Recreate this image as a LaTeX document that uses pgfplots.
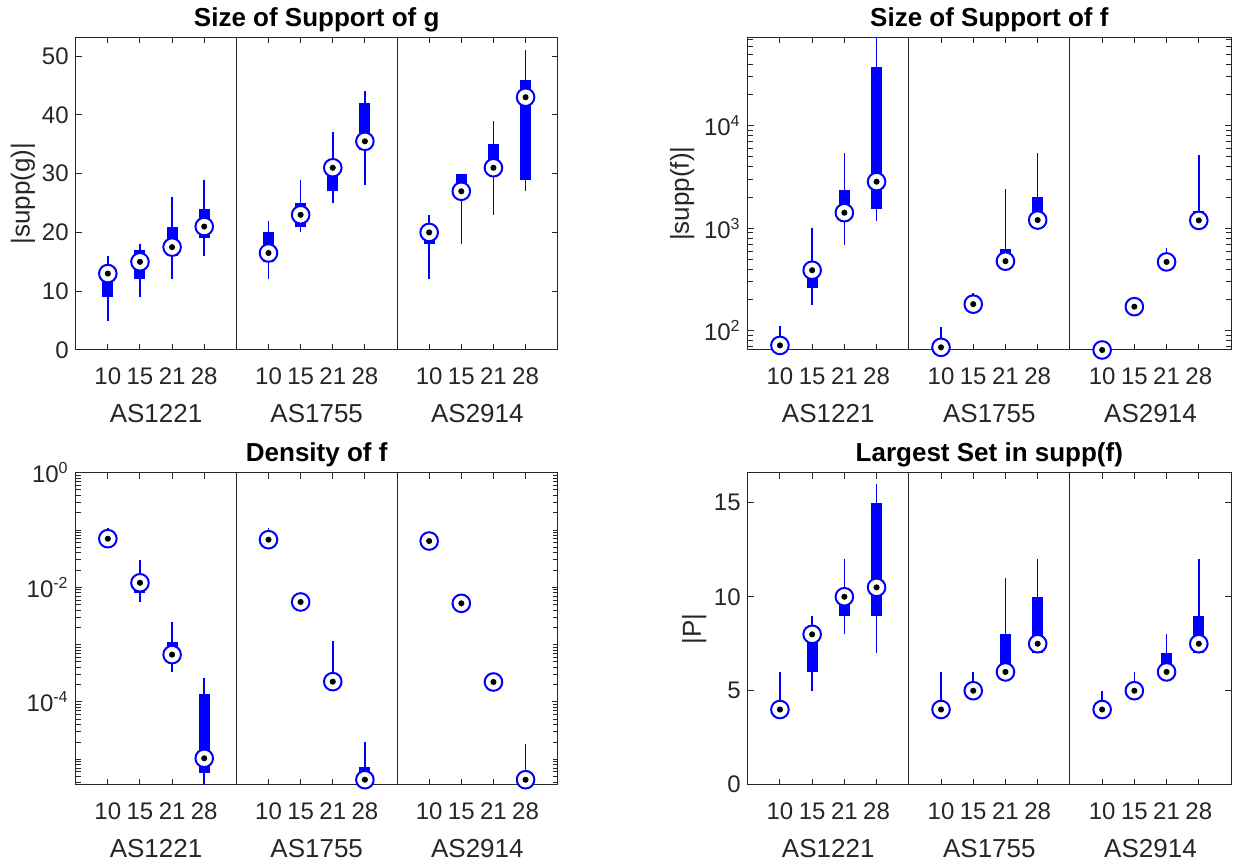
\documentclass[border=0pt]{standalone}
\usepackage{fontspec}
\setmainfont{Liberation Sans}
\usepackage{pgfplots}
\pgfplotsset{compat=1.18}
\definecolor{axgray}{rgb}{0.15,0.15,0.15}
\pgfplotsset{
  mat/.style={
    scale only axis, anchor=south west,
    xmin=0, xmax=15,
    xtick={1,2,3,4,6,7,8,9,11,12,13,14},
    xticklabels={10,15,21,28,10,15,21,28,10,15,21,28},
    extra x ticks={2.5,7.5,12.5},
    extra x tick labels={AS1221,AS1755,AS2914},
    extra x tick style={major tick length=0pt, xticklabel style={yshift=-19pt, font=\fontsize{13}{15}\selectfont}},
    tick align=inside,
    axis line style={axgray, line width=0.5pt},
    tick style={axgray, line width=0.5pt},
    major tick length=3pt, minor tick length=2.5pt,
    /pgf/number format/assume math mode=true,
    ticklabel style={font=\fontsize{12}{14}\selectfont, text=axgray},
    xticklabel style={anchor=base, yshift=-17.5pt},
    every axis title shift=0pt,
    title style={font=\bfseries\fontsize{13}{15}\selectfont, at={(0.5,1)}, anchor=base, yshift=5.5pt},
    ylabel style={font=\fontsize{13}{15}\selectfont, text=axgray, anchor=base},
    clip mode=individual,
    unbounded coords=jump,
  },
  whisk/.style={blue, line width=0.8pt, line cap=butt, forget plot},
  boxs/.style={blue, line width=5.5pt, line cap=butt, forget plot},
  medo/.style={only marks, mark=*, mark size=4.4pt, mark options={draw=blue, fill=white, line width=1pt}, forget plot},
  medi/.style={only marks, mark=*, mark size=1.3pt, mark options={draw=black, fill=black}, forget plot},
}
\begin{document}
\begin{tikzpicture}
\path[use as bounding box] (0,0) rectangle (620.5pt,433.5pt);

% ---------------- Top left
\begin{axis}[mat, at={(37.85pt,258.5pt)}, width=241pt, height=156.35pt,
  ymin=0, ymax=53.2, ytick={0,10,20,30,40,50},
  title={Size of Support of g}, ylabel={|supp(g)|},
  ylabel style={at={(rel axis cs:-0.0956,0.5)}}]
\addplot[whisk] coordinates {(1,5) (1,16) (1,nan) (2,9) (2,18) (2,nan) (3,12) (3,26) (3,nan) (4,16) (4,29) (4,nan)
 (6,12) (6,22) (6,nan) (7,20) (7,29) (7,nan) (8,25) (8,37) (8,nan) (9,28) (9,44) (9,nan)
 (11,12) (11,23) (11,nan) (12,18) (12,30) (12,nan) (13,23) (13,39) (13,nan) (14,27) (14,51)};
\addplot[boxs] coordinates {(1,9) (1,13.5) (1,nan) (2,12) (2,17) (2,nan) (3,16) (3,21) (3,nan) (4,19) (4,24) (4,nan)
 (6,15) (6,20) (6,nan) (7,21) (7,25) (7,nan) (8,27) (8,31.5) (8,nan) (9,34) (9,42) (9,nan)
 (11,18) (11,20.5) (11,nan) (12,27) (12,30) (12,nan) (13,30) (13,35) (13,nan) (14,29) (14,46)};
\addplot[medo] coordinates {(1,13) (2,15) (3,17.5) (4,21) (6,16.5) (7,23) (8,31) (9,35.5) (11,20) (12,27) (13,31) (14,43)};
\addplot[medi] coordinates {(1,13) (2,15) (3,17.5) (4,21) (6,16.5) (7,23) (8,31) (9,35.5) (11,20) (12,27) (13,31) (14,43)};
\draw[axgray, line width=0.5pt] (rel axis cs:0.333333,0) -- (rel axis cs:0.333333,1);
\draw[axgray, line width=0.5pt] (rel axis cs:0.666667,0) -- (rel axis cs:0.666667,1);
\end{axis}

% ---------------- Top right
\begin{axis}[mat, ymode=log, at={(373.85pt,258.5pt)}, width=241.65pt, height=156.35pt,
  ymin=65, ymax=73000, ytick={100,1000,10000},
  yticklabels={10\textsuperscript{2},10\textsuperscript{3},10\textsuperscript{4}},
  minor ytick={70,80,90,200,300,400,500,600,700,800,900,2000,3000,4000,5000,6000,7000,8000,9000,20000,30000,40000,50000,60000,70000},
  title={Size of Support of f}, ylabel={|supp(f)|},
  ylabel style={at={(rel axis cs:-0.1215,0.5)}}]
\addplot[whisk] coordinates {(1,60) (1,112) (1,nan) (2,180) (2,1000) (2,nan) (3,684) (3,5400) (3,nan) (4,1175) (4,75000) (4,nan)
 (6,60) (6,110) (6,nan) (7,170) (7,234) (7,nan) (8,440) (8,2400) (8,nan) (9,1100) (9,5480) (9,nan)
 (11,60) (11,80) (11,nan) (12,165) (12,212) (12,nan) (13,440) (13,645) (13,nan) (14,1150) (14,5200)};
\addplot[boxs] coordinates {(1,70) (1,76) (1,nan) (2,262) (2,420) (2,nan) (3,1300) (3,2340) (3,nan) (4,1530) (4,37200) (4,nan)
 (6,67) (6,72) (6,nan) (7,175) (7,190) (7,nan) (8,460) (8,635) (8,nan) (9,1150) (9,2030) (9,nan)
 (11,63) (11,68) (11,nan) (12,168) (12,180) (12,nan) (13,455) (13,500) (13,nan) (14,1170) (14,1460)};
\addplot[medo] coordinates {(1,72) (2,390) (3,1420) (4,2850) (6,69) (7,182) (8,478) (9,1203) (11,65) (12,172) (13,470) (14,1194)};
\addplot[medi] coordinates {(1,72) (2,390) (3,1420) (4,2850) (6,69) (7,182) (8,478) (9,1203) (11,65) (12,172) (13,470) (14,1194)};
\draw[axgray, line width=0.5pt] (rel axis cs:0.333333,0) -- (rel axis cs:0.333333,1);
\draw[axgray, line width=0.5pt] (rel axis cs:0.666667,0) -- (rel axis cs:0.666667,1);
\end{axis}

% ---------------- Bottom left
\begin{axis}[mat, ymode=log, at={(37.85pt,41.15pt)}, width=241pt, height=156pt,
  ymin=3.6e-6, ymax=1, ytick={1e-4,1e-2,1},
  yticklabels={10\textsuperscript{-4},10\textsuperscript{-2},10\textsuperscript{0}},
  minor ytick={4e-6,5e-6,6e-6,7e-6,8e-6,9e-6,1e-5,2e-5,3e-5,4e-5,5e-5,6e-5,7e-5,8e-5,9e-5,2e-4,3e-4,4e-4,5e-4,6e-4,7e-4,8e-4,9e-4,1e-3,2e-3,3e-3,4e-3,5e-3,6e-3,7e-3,8e-3,9e-3,2e-2,3e-2,4e-2,5e-2,6e-2,7e-2,8e-2,9e-2,1e-1,2e-1,3e-1,4e-1,5e-1,6e-1,7e-1,8e-1,9e-1},
  title={Density of f}]
\addplot[whisk] coordinates {(1,0.065) (1,0.107) (1,nan) (2,0.00547) (2,0.0304) (2,nan) (3,3.29e-4) (3,2.48e-3) (3,nan) (4,3.0e-6) (4,2.63e-4) (4,nan)
 (6,0.064) (6,0.107) (6,nan) (7,5.3e-3) (7,6.0e-3) (7,nan) (8,2.15e-4) (8,1.14e-3) (8,nan) (9,3.0e-6) (9,1.98e-5) (9,nan)
 (11,0.061) (11,0.07) (11,nan) (12,5.0e-3) (12,5.6e-3) (12,nan) (13,2.1e-4) (13,2.4e-4) (13,nan) (14,3.0e-6) (14,1.87e-5)};
\addplot[boxs] coordinates {(1,0.068) (1,0.075) (1,nan) (2,0.0080) (2,0.013) (2,nan) (3,6.0e-4) (3,1.11e-3) (3,nan) (4,5.78e-6) (4,1.38e-4) (4,nan)
 (6,0.066) (6,0.072) (6,nan) (7,5.4e-3) (7,5.8e-3) (7,nan) (8,2.2e-4) (8,2.4e-4) (8,nan) (9,4.0e-6) (9,7.24e-6) (9,nan)
 (11,0.062) (11,0.066) (11,nan) (12,5.1e-3) (12,5.4e-3) (12,nan) (13,2.15e-4) (13,2.3e-4) (13,nan) (14,4.0e-6) (14,4.8e-6)};
\addplot[medo] coordinates {(1,0.0706) (2,0.012) (3,6.7e-4) (4,1.04e-5) (6,0.0678) (7,5.55e-3) (8,2.26e-4) (9,4.4e-6) (11,0.0643) (12,5.26e-3) (13,2.23e-4) (14,4.4e-6)};
\addplot[medi] coordinates {(1,0.0706) (2,0.012) (3,6.7e-4) (4,1.04e-5) (6,0.0678) (7,5.55e-3) (8,2.26e-4) (9,4.4e-6) (11,0.0643) (12,5.26e-3) (13,2.23e-4) (14,4.4e-6)};
\draw[axgray, line width=0.5pt] (rel axis cs:0.333333,0) -- (rel axis cs:0.333333,1);
\draw[axgray, line width=0.5pt] (rel axis cs:0.666667,0) -- (rel axis cs:0.666667,1);
\end{axis}

% ---------------- Bottom right
\begin{axis}[mat, at={(373.85pt,41.15pt)}, width=241.65pt, height=156pt,
  ymin=0, ymax=16.6, ytick={0,5,10,15},
  title={Largest Set in supp(f)}, ylabel={|P|},
  ylabel style={at={(rel axis cs:-0.0967,0.5)}}]
\addplot[whisk] coordinates {(1,4) (1,6) (1,nan) (2,5) (2,9) (2,nan) (3,8) (3,12) (3,nan) (4,7) (4,16) (4,nan)
 (6,4) (6,6) (6,nan) (7,5) (7,6) (7,nan) (8,6) (8,11) (8,nan) (9,7) (9,12) (9,nan)
 (11,4) (11,5) (11,nan) (12,5) (12,6) (12,nan) (13,6) (13,8) (13,nan) (14,7) (14,12)};
\addplot[boxs] coordinates {(1,4) (1,4) (1,nan) (2,6) (2,8) (2,nan) (3,9) (3,10) (3,nan) (4,9) (4,15) (4,nan)
 (6,4) (6,4) (6,nan) (7,5) (7,5) (7,nan) (8,6) (8,8) (8,nan) (9,7) (9,10) (9,nan)
 (11,4) (11,4) (11,nan) (12,5) (12,5) (12,nan) (13,6) (13,7) (13,nan) (14,7) (14,9)};
\addplot[medo] coordinates {(1,4) (2,8) (3,10) (4,10.5) (6,4) (7,5) (8,6) (9,7.5) (11,4) (12,5) (13,6) (14,7.5)};
\addplot[medi] coordinates {(1,4) (2,8) (3,10) (4,10.5) (6,4) (7,5) (8,6) (9,7.5) (11,4) (12,5) (13,6) (14,7.5)};
\draw[axgray, line width=0.5pt] (rel axis cs:0.333333,0) -- (rel axis cs:0.333333,1);
\draw[axgray, line width=0.5pt] (rel axis cs:0.666667,0) -- (rel axis cs:0.666667,1);
\end{axis}
\end{tikzpicture}
\end{document}
